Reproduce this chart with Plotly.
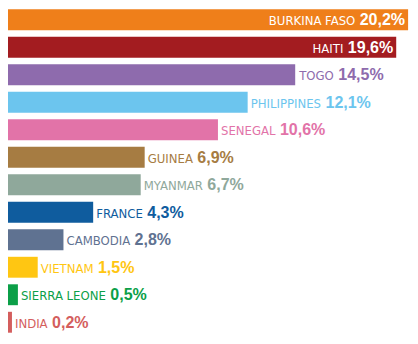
import plotly.graph_objects as go

countries = ["BURKINA FASO", "HAITI", "TOGO", "PHILIPPINES", "SENEGAL", "GUINEA",
             "MYANMAR", "FRANCE", "CAMBODIA", "VIETNAM", "SIERRA LEONE", "INDIA"]
values = [20.2, 19.6, 14.5, 12.1, 10.6, 6.9, 6.7, 4.3, 2.8, 1.5, 0.5, 0.2]
colors = ["#EF7F1A", "#A31C20", "#8E6BAD", "#6CC5EE", "#E273A8", "#A67C42",
          "#8FA89B", "#0F5C9E", "#5F7291", "#FFC612", "#0B9F48", "#D45E5D"]
inside = [True, True] + [False] * 10

texts = []
for c, v in zip(countries, values):
    val = f"{v:.1f}".replace(".", ",") + "%"
    texts.append(
        "<span style=\"font-family:Liberation Sans Narrow, DejaVu Sans Condensed, Arial Narrow, sans-serif;"
        "font-stretch:condensed;font-size:13px;font-weight:normal\">" + c + "</span>"
        f" <b>{val}</b>"
    )

label_colors = ["white" if i else col for i, col in zip(inside, colors)]

fig = go.Figure(go.Bar(
    x=values,
    y=countries,
    orientation="h",
    marker=dict(color=colors, line=dict(width=0)),
    text=texts,
    textposition=["inside" if i else "outside" for i in inside],
    insidetextanchor="end",
    textfont=dict(family="Liberation Sans", size=16, color=label_colors),
    insidetextfont=dict(family="Liberation Sans", size=16, color=label_colors),
    outsidetextfont=dict(family="Liberation Sans", size=16, color=label_colors),
    constraintext="none",
    cliponaxis=False,
    hoverinfo="skip",
))

fig.update_layout(
    width=418, height=344,
    margin=dict(l=8, r=0, t=6, b=8),
    paper_bgcolor="white", plot_bgcolor="white",
    bargap=0.24,
    showlegend=False,
    xaxis=dict(range=[0, 20.7], visible=False, fixedrange=True),
    yaxis=dict(categoryorder="array", categoryarray=countries, autorange="reversed",
               visible=False, fixedrange=True),
)

fig.write_html("out.html")
